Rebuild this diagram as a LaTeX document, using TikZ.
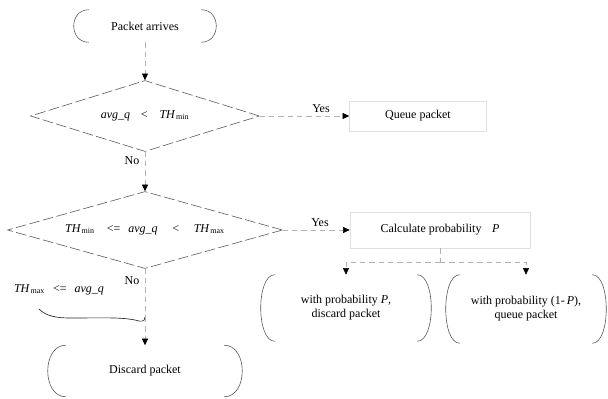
\documentclass[tikz,border=0pt]{standalone}
\usepackage{fontspec}
\setmainfont{Liberation Serif}
\usetikzlibrary{shapes.geometric,arrows.meta,calc}
\newcommand\termends[2]{%
  \draw[endarc] ($(#1.north west)+(#2,0)$) .. controls ($(#1.north west)+(-#2/3,0)$) and ($(#1.south west)+(-#2/3,0)$) .. ($(#1.south west)+(#2,0)$);
  \draw[endarc] ($(#1.north east)+(-#2,0)$) .. controls ($(#1.north east)+(#2/3,0)$) and ($(#1.south east)+(#2/3,0)$) .. ($(#1.south east)+(-#2,0)$);}
\begin{document}
\begin{tikzpicture}[x=0.75pt,y=-0.75pt,
  every node/.style={font=\fontsize{9}{10.5}\selectfont, inner sep=0pt},
  term/.style={rectangle, align=center},
  proc/.style={rectangle, draw=black!12, line width=0.4pt, align=center},
  dec/.style={diamond, draw=black!65, line width=0.45pt, dash pattern=on 8pt off 2.5pt},
  endarc/.style={draw=black!65, line width=0.45pt},
  conn/.style={draw=black!30, line width=0.4pt, dash pattern=on 4pt off 3pt,
    -{Triangle[length=5pt,width=4.5pt,color=black]}},
  plain/.style={draw=black!30, line width=0.4pt, dash pattern=on 4pt off 3pt},
  wave/.style={draw=black!85, line width=0.5pt}
]
\useasboundingbox (0,0) rectangle (608,399);

% nodes
\node[term, minimum width=106.5pt, minimum height=24pt] (start) at (145,26) {Packet arrives};
\node[dec, aspect=3.23, minimum width=171.75pt, minimum height=53.25pt] (d1) at (145,116)
  {\textit{avg\_q}\hspace{8pt}<\hspace{9pt}\textit{TH}\kern0.5pt\textsubscript{min}};
\node[proc, minimum width=102.75pt, minimum height=22.5pt] (queue) at (418,116) {Queue packet};
\node[dec, aspect=3.57, minimum width=206.25pt, minimum height=57.75pt] (d2) at (145,230)
  {\textit{TH}\kern0.5pt\textsubscript{min}\hspace{9pt}<=\hspace{6pt}\textit{avg\_q}\hspace{11pt}<\hspace{11pt}\textit{TH}\kern0.5pt\textsubscript{max}};
\node[proc, minimum width=135pt, minimum height=27pt] (calc) at (440,230) {Calculate probability\hspace{8pt}\textit{P}};
\node[term, minimum width=127.5pt, minimum height=49.5pt] (p1) at (346,308) {with probability \textit{P},\\discard packet};
\node[term, minimum width=120pt, minimum height=51pt] (p2) at (526,309) {with probability (1-\,\textit{P}),\\queue packet};
\node[term, minimum width=145.5pt, minimum height=38.25pt] (disc) at (145,371) {Discard packet};
\node (cond) at (59,290) {\textit{TH}\kern0.5pt\textsubscript{max}\hspace{6pt}<=\hspace{6pt}\textit{avg\_q}};

% labels
\node (yes1) at (321,109) {Yes};
\node (no1) at (132,161) {No};
\node (yes2) at (320,223) {Yes};
\node (no2) at (132,281) {No};

% terminal ends
\termends{start}{15}
\termends{p1}{14}
\termends{p2}{14}
\termends{disc}{18}

% connectors
\coordinate (br) at (440,262);
\coordinate (w0) at (39,309);
\coordinate (wv) at (145,317);
\draw[conn] (start) -- (d1);
\draw[conn] (d1) -- (queue);
\draw[conn] (d1) -- (d2);
\draw[conn] (d2) -- (calc);
\draw[plain] (calc) -- (br);
\draw[conn] (br) -| (p1);
\draw[conn] (br) -| (p2);
\draw[plain] (d2) -- (wv);
\draw[wave] (w0) .. controls (46,316) and (56,318) .. (70,318)
  .. controls (100,318) and (120,317) .. (135,320)
  .. controls (141,322) and (145,322) .. (wv);
\draw[conn] (wv) -- (disc);
\end{tikzpicture}
\end{document}
